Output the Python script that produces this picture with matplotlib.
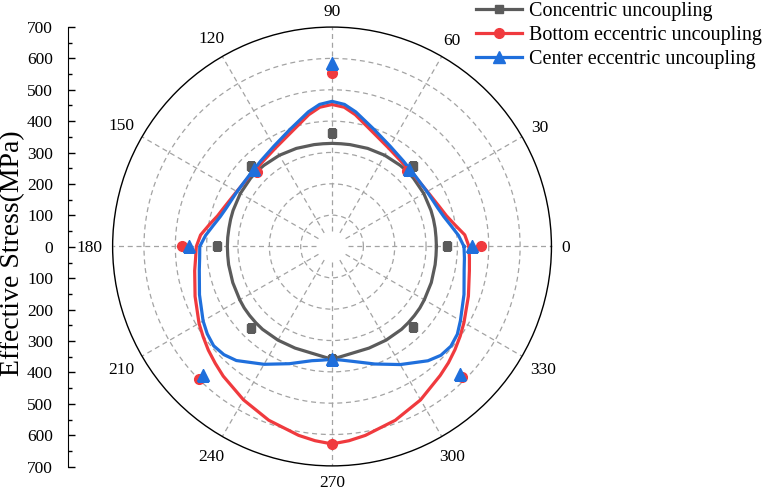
import numpy as np
import matplotlib.pyplot as plt
from matplotlib.lines import Line2D

plt.rcParams['font.family'] = ['Liberation Serif', 'DejaVu Serif']

# smooth curves: angle (deg) -> effective stress (MPa)
ang = [0, 5, 10, 15, 20, 30, 40, 45, 50, 60, 70, 80, 85, 90, 95, 100, 110, 120, 130, 135, 140,
       150, 160, 165, 170, 175, 180, 185, 190, 200, 210, 215, 220, 225, 230, 240, 250, 260, 265,
       270, 275, 280, 290, 300, 310, 315, 320, 325, 330, 340, 350, 355, 360]
conc_line = [333, 333, 334, 335, 336, 338, 339, 339, 338, 336, 333, 330, 329, 329, 329, 330, 333, 336, 338, 339, 339,
             338, 336, 335, 334, 334, 334, 334, 335, 337, 340, 342, 343, 344, 345, 345, 345, 347, 352,
             360, 352, 347, 345, 345, 345, 344, 343, 342, 340, 337, 334, 333, 333]
bottom_line = [437, 425, 398, 378, 366, 351, 346, 346, 349, 362, 386, 427, 446, 453, 446, 427, 386, 362, 349, 346, 346,
               351, 366, 378, 398, 421, 433, 437, 445, 465, 490, 502, 515, 527, 540, 565, 590, 612, 622,
               630, 622, 612, 590, 565, 537, 525, 512, 499, 486, 463, 445, 440, 437]
center_line = [421, 405, 385, 369, 359, 350, 348, 350, 355, 370, 396, 436, 455, 463, 455, 436, 396, 370, 355, 350, 348,
               350, 359, 369, 385, 405, 422, 424, 430, 450, 475, 486, 493, 488, 475, 434, 398, 370, 364,
               360, 364, 372, 399, 435, 476, 491, 495, 488, 473, 448, 428, 424, 421]

# measured points
mk_ang = [0, 45, 90, 135, 180, 225, 270, 315]
conc_pts = [366, 365, 363, 365, 368, 366, 360, 364]
bottom_pts = [474, 339, 553, 338, 480, 599, 630, 588]
center_pts = [448, 349, 584, 351, 455, 582, 359, 577]

c_gray = '#5b5b5b'
c_red = '#f03a3e'
c_blue = '#1f6fdc'

fig = plt.figure(figsize=(7.64, 4.94), dpi=100)
ax = fig.add_axes([0.1474, 0.0569, 0.5744, 0.8883], projection='polar')

th = np.deg2rad(ang)
tm = np.deg2rad(mk_ang)
ax.plot(th, conc_line, color=c_gray, lw=2.3, zorder=3)
ax.plot(th, bottom_line, color=c_red, lw=2.3, zorder=4)
ax.plot(th, center_line, color=c_blue, lw=2.3, zorder=5)
ax.plot(tm, conc_pts, 's', color=c_gray, ms=6.2, zorder=6)
ax.plot(tm, bottom_pts, 'o', color=c_red, ms=7, zorder=7)
ax.plot(tm, center_pts, '^', color=c_blue, ms=8, zorder=8)

ax.set_ylim(0, 700)
ax.set_yticks(range(100, 700, 100))
ax.set_yticklabels([])
ax.yaxis.grid(True, color='#a3a3a3', lw=0.9, ls=(0, (4, 3)))
ax.xaxis.grid(False)
for a in range(0, 360, 30):
    ax.plot([np.deg2rad(a)] * 2, [50, 700], color='#a3a3a3', lw=0.9, ls=(0, (4, 3)), zorder=1)

ax.set_xticks(np.deg2rad(range(0, 360, 30)))
ax.set_xticklabels([])
ax.set_xticks(np.deg2rad(range(15, 360, 30)), minor=True)
ax.tick_params(axis='x', which='major', direction='in', length=7, width=1)
ax.tick_params(axis='x', which='minor', direction='in', length=4, width=1)
ax.spines['polar'].set_color('black')
ax.spines['polar'].set_linewidth(1)

# angle labels: text box kept ~10 px clear of the outer circle
for a in range(0, 360, 30):
    t = np.deg2rad(a)
    s = str(a)
    w, h = 8.7 * len(s), 12.0
    d = 10 + abs(np.cos(t)) * w / 2 + abs(np.sin(t)) * h / 2
    ax.annotate(s, xy=(t, 700), xytext=(np.cos(t) * d * 0.72, np.sin(t) * d * 0.72 - 1),
                textcoords='offset points', ha='center', va='center', fontsize=12.5,
                annotation_clip=False)

# linear stress scale on the left
ax2 = fig.add_axes([0.0894, 0.0553, 0.0001, 0.8901])
ax2.set_ylim(-700, 700)
for s in ['top', 'right', 'bottom']:
    ax2.spines[s].set_visible(False)
ax2.set_xticks([])
yt = list(range(-700, 701, 100))
ax2.set_yticks(yt)
ax2.set_yticklabels([str(abs(v)) for v in yt], fontsize=12.5)
ax2.set_yticks(range(-650, 700, 100), minor=True)
ax2.tick_params(axis='y', which='major', direction='in', length=5, width=1, pad=11)
ax2.tick_params(axis='y', which='minor', direction='in', length=3, width=1)
fig.text(13 / 764, 0.487, 'Effective Stress(MPa)', rotation=90, ha='center', va='center', fontsize=20)

handles = [Line2D([], [], color=c_gray, lw=2.3, marker='s', ms=6.2),
           Line2D([], [], color=c_red, lw=2.3, marker='o', ms=7),
           Line2D([], [], color=c_blue, lw=2.3, marker='^', ms=8)]
labels = ['Concentric uncoupling', 'Bottom eccentric uncoupling', 'Center eccentric uncoupling']
fig.legend(handles, labels, loc='upper left', bbox_to_anchor=(476 / 764, 1 - 2 / 494),
           frameon=False, fontsize=14.5, handlelength=2.3, handletextpad=0.35,
           labelspacing=0.25, borderpad=0, borderaxespad=0, numpoints=1)

fig.savefig('out.png', dpi=100)
